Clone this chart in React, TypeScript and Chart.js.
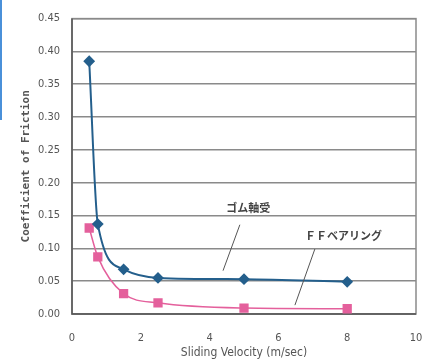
import React, { useEffect, useRef } from "react";
import { Chart, registerables } from "chart.js";

Chart.register(...registerables);

const velocity = [0.5, 0.75, 1.5, 2.5, 5, 8];
const rubberBearing = [0.385, 0.137, 0.068, 0.055, 0.053, 0.049];
const ffBearing = [0.131, 0.087, 0.031, 0.017, 0.009, 0.008];
const seriesNames = ["ゴム軸受", "ＦＦベアリング"];
const yTicks = [0, 0.05, 0.1, 0.15, 0.2, 0.25, 0.3, 0.35, 0.4, 0.45];
const xTicks = [0, 2, 4, 6, 8, 10];

// annotation labels in data units: [labelX, labelY, lineFromX, lineFromY, lineToX, lineToY]
const rubberNote = [5.12, 0.161, 4.88, 0.136, 4.39, 0.066];
const ffNote = [7.89, 0.119, 7.06, 0.099, 6.48, 0.0135];

const BLUE = "#245f8c";
const PINK = "#e4609c";

export default function App() {
  const ref = useRef<HTMLCanvasElement | null>(null);

  useEffect(() => {
    if (!ref.current) return;

    const framePlugin = {
      id: "frame",
      beforeDatasetsDraw(chart: any) {
        const { ctx, chartArea: a } = chart;
        ctx.save();
        ctx.strokeStyle = "#8a8a8a";
        ctx.lineWidth = 1.5;
        ctx.strokeRect(a.left, a.top, a.right - a.left, a.bottom - a.top);
        ctx.strokeStyle = "#555";
        ctx.beginPath();
        ctx.moveTo(a.left, a.top);
        ctx.lineTo(a.left, a.bottom);
        ctx.lineTo(a.right, a.bottom);
        ctx.stroke();
        ctx.restore();
      },
      afterDatasetsDraw(chart: any) {
        const { ctx } = chart;
        const xs = chart.scales.x;
        const ys = chart.scales.y;
        const notes = [rubberNote, ffNote];
        ctx.save();
        notes.forEach((n, i) => {
          ctx.strokeStyle = "#555";
          ctx.lineWidth = 1;
          ctx.beginPath();
          ctx.moveTo(xs.getPixelForValue(n[2]), ys.getPixelForValue(n[3]));
          ctx.lineTo(xs.getPixelForValue(n[4]), ys.getPixelForValue(n[5]));
          ctx.stroke();
          ctx.fillStyle = "#444";
          ctx.font = "bold 11px 'Noto Sans CJK JP'";
          ctx.textAlign = "center";
          ctx.textBaseline = "middle";
          ctx.fillText(seriesNames[i], xs.getPixelForValue(n[0]), ys.getPixelForValue(n[1]));
        });
        ctx.restore();
      },
    };

    const chart = new Chart(ref.current, {
      type: "line",
      data: {
        datasets: [
          {
            label: seriesNames[0],
            data: velocity.map((v, i) => ({ x: v, y: rubberBearing[i] })),
            borderColor: BLUE,
            backgroundColor: BLUE,
            borderWidth: 2,
            pointStyle: "rectRot",
            pointRadius: 4.5,
            cubicInterpolationMode: "monotone",
          },
          {
            label: seriesNames[1],
            data: velocity.map((v, i) => ({ x: v, y: ffBearing[i] })),
            borderColor: PINK,
            backgroundColor: PINK,
            borderWidth: 1.5,
            pointStyle: "rect",
            pointRadius: 5.5,
            cubicInterpolationMode: "monotone",
          },
        ],
      },
      options: {
        animation: false,
        responsive: false,
        layout: { padding: { left: 14, top: 15, right: 14, bottom: 0 } },
        plugins: { legend: { display: false }, tooltip: { enabled: false } },
        scales: {
          x: {
            type: "linear",
            min: 0,
            max: 10,
            afterBuildTicks: (s: any) => {
              s.ticks = xTicks.map((v) => ({ value: v }));
            },
            afterFit: (s: any) => {
              s.height = 49;
              s.paddingLeft = 0;
              s.paddingRight = 0;
            },
            grid: { display: false, drawTicks: false },
            border: { display: false },
            ticks: {
              padding: 18,
              color: "#555",
              font: { family: "'DejaVu Sans Condensed', 'Liberation Sans Narrow', sans-serif", size: 11 },
            },
            title: {
              display: true,
              text: "Sliding Velocity (m/sec)",
              color: "#555",
              padding: { top: 0, bottom: 3 },
              font: { family: "'DejaVu Sans Condensed', 'Liberation Sans Narrow', sans-serif", size: 12 },
            },
          },
          y: {
            min: 0,
            max: 0.45,
            afterBuildTicks: (s: any) => {
              s.ticks = yTicks.map((v) => ({ value: v }));
            },
            afterFit: (s: any) => {
              s.width = 58;
            },
            grid: { color: "#8a8a8a", lineWidth: 1.5, drawTicks: false },
            border: { display: false },
            ticks: {
              padding: 12,
              color: "#555",
              font: { family: "'DejaVu Sans Condensed', 'Liberation Sans Narrow', sans-serif", size: 11 },
              callback: (v: any) => Number(v).toFixed(2),
            },
            title: {
              display: true,
              text: "Coefficient of Friction",
              color: "#555",
              padding: { top: 6, bottom: 0 },
              font: { family: "'DejaVu Sans Mono', monospace", size: 11, weight: "bold" },
            },
          },
        },
      },
      plugins: [framePlugin],
    } as any);

    return () => chart.destroy();
  }, []);

  return (
    <div style={{ position: "absolute", left: 0, top: 0, width: 430, height: 363, background: "#fff" }}>
      <div style={{ position: "absolute", left: 0, top: 0, width: 2, height: 120, background: "#4a90d9" }} />
      <canvas ref={ref} width={430} height={363} style={{ display: "block" }} />
    </div>
  );
}
